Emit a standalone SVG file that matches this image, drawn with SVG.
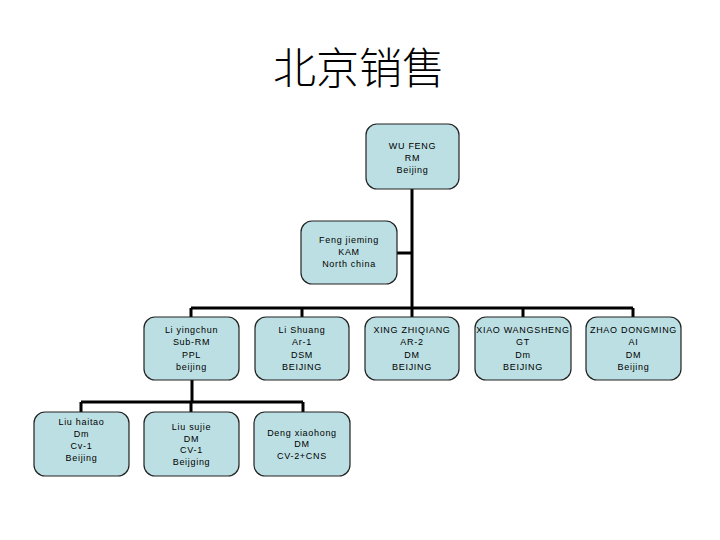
<svg xmlns="http://www.w3.org/2000/svg" width="720" height="540" viewBox="0 0 720 540">
<style>
.box{fill:#bcdfe3;stroke:#222;stroke-width:1.2}
.t{font-family:"Liberation Sans",Arial,sans-serif;font-size:9px;letter-spacing:0.7px;text-anchor:middle;fill:#000}
.c{fill:none;stroke:#000;stroke-width:3}
.title{font-family:"Noto Sans CJK SC",sans-serif;font-size:43px;font-weight:300;text-anchor:middle;fill:#000}
</style>
<rect width="720" height="540" fill="#fff"/>
<text class="title" x="359" y="84">北京销售</text>
<g id="connectors">
<path class="c" d="M412,189 V308 M397,253 H412 M191,308 H633 M191,308 V318 M302,308 V318 M412,308 V318 M523,308 V318 M633,308 V318 M192,380 V402 M81,402 H303 M81,402 V412 M191,402 V412 M303,402 V412"/>
</g>
<g id="wufeng"><rect class="box" x="366" y="124" width="93" height="65" rx="11"/>
<text class="t" x="412.5" y="149">WU FENG</text><text class="t" x="412.5" y="161">RM</text><text class="t" x="412.5" y="173">Beijing</text></g>
<g id="fengjieming"><rect class="box" x="301" y="221" width="96" height="63" rx="11"/>
<text class="t" x="349" y="243">Feng jieming</text><text class="t" x="349" y="255">KAM</text><text class="t" x="349" y="267">North china</text></g>
<g id="liyingchun"><rect class="box" x="144" y="317" width="95" height="63" rx="11"/>
<text class="t" x="191.5" y="333">Li yingchun</text><text class="t" x="191.5" y="345">Sub-RM</text><text class="t" x="191.5" y="357.5">PPL</text><text class="t" x="191.5" y="370">beijing</text></g>
<g id="lishuang"><rect class="box" x="255" y="317" width="94" height="63" rx="11"/>
<text class="t" x="302" y="333">Li Shuang</text><text class="t" x="302" y="345">Ar-1</text><text class="t" x="302" y="357.5">DSM</text><text class="t" x="302" y="370">BEIJING</text></g>
<g id="xingzhiqiang"><rect class="box" x="365" y="317" width="94" height="63" rx="11"/>
<text class="t" x="412" y="333">XING ZHIQIANG</text><text class="t" x="412" y="345">AR-2</text><text class="t" x="412" y="357.5">DM</text><text class="t" x="412" y="370">BEIJING</text></g>
<g id="xiaowangsheng"><rect class="box" x="475" y="317" width="96" height="63" rx="11"/>
<text class="t" x="523" y="333">XIAO WANGSHENG</text><text class="t" x="523" y="345">GT</text><text class="t" x="523" y="357.5">Dm</text><text class="t" x="523" y="370">BEIJING</text></g>
<g id="zhaodongming"><rect class="box" x="586" y="317" width="95" height="63" rx="11"/>
<text class="t" x="633.5" y="333">ZHAO DONGMING</text><text class="t" x="633.5" y="345">AI</text><text class="t" x="633.5" y="357.5">DM</text><text class="t" x="633.5" y="370">Beijing</text></g>
<g id="liuhaitao"><rect class="box" x="34" y="412" width="95" height="64" rx="11"/>
<text class="t" x="81.5" y="425">Liu haitao</text><text class="t" x="81.5" y="437">Dm</text><text class="t" x="81.5" y="449">Cv-1</text><text class="t" x="81.5" y="461">Beijing</text></g>
<g id="liusujie"><rect class="box" x="144" y="412" width="95" height="64" rx="11"/>
<text class="t" x="191.5" y="430">Liu sujie</text><text class="t" x="191.5" y="441.5">DM</text><text class="t" x="191.5" y="453">CV-1</text><text class="t" x="191.5" y="465">Beijging</text></g>
<g id="dengxiaohong"><rect class="box" x="254" y="412" width="96" height="64" rx="11"/>
<text class="t" x="302" y="436">Deng xiaohong</text><text class="t" x="302" y="447">DM</text><text class="t" x="302" y="458.5">CV-2+CNS</text></g>
</svg>
